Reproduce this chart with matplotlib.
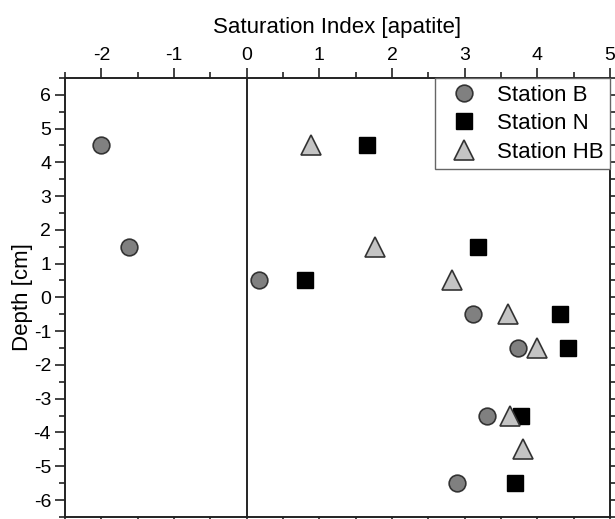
import matplotlib
matplotlib.use("Agg")
import matplotlib.pyplot as plt
from matplotlib.ticker import MultipleLocator

plt.rcParams['font.family'] = ['Liberation Sans', 'DejaVu Sans']
plt.rcParams['axes.unicode_minus'] = False

depth = [4.5, 1.5, 0.5, -0.5, -1.5, -3.5, -5.5]
si_b = [-2.0, -1.62, 0.165, 3.11, 3.74, 3.31, 2.90]
si_n = [1.65, 3.19, 0.81, 4.31, 4.42, 3.78, 3.69]
depth_hb = [4.5, 1.5, 0.5, -0.5, -1.5, -3.5, -4.5]
si_hb = [0.88, 1.76, 2.83, 3.60, 4.0, 3.63, 3.80]

fig = plt.figure(figsize=(6.15, 5.19), dpi=100)
ax = fig.add_axes([0.1057, 0.004, 0.886, 0.846])

ax.axvline(0, color='black', lw=1.2, zorder=1)

ax.plot(si_b, depth, 'o', ms=12, mfc='#808080', mec='#333333', mew=1.2,
        ls='none', label='Station B', zorder=3)
ax.plot(si_n, depth, 's', ms=11, mfc='black', mec='black', mew=1.0,
        ls='none', label='Station N', zorder=3)
ax.plot(si_hb, depth_hb, '^', ms=14, mfc='#c4c4c4', mec='#333333', mew=1.2,
        ls='none', label='Station HB', zorder=3)

ax.set_xlim(-2.5, 5)
ax.set_ylim(-6.5, 6.5)
ax.xaxis.set_major_locator(MultipleLocator(1))
ax.xaxis.set_minor_locator(MultipleLocator(0.5))
ax.yaxis.set_major_locator(MultipleLocator(1))
ax.yaxis.set_minor_locator(MultipleLocator(0.5))

ax.xaxis.set_label_position('top')
ax.tick_params(axis='both', which='both', direction='out', top=True, right=True,
               bottom=True, left=True, labeltop=True, labelbottom=False,
               labelsize=14, width=1.2, color='#222222')
ax.tick_params(which='major', length=7, pad=3)
ax.tick_params(which='minor', length=4)
for s in ax.spines.values():
    s.set_linewidth(1.4)
    s.set_color('#222222')

ax.set_xlabel('Saturation Index [apatite]', fontsize=16, labelpad=10)
ax.set_ylabel('Depth [cm]', fontsize=16, labelpad=0.5)

leg = ax.legend(loc='upper right', fontsize=16, borderaxespad=0,
                fancybox=False, edgecolor='#666666', framealpha=1,
                handletextpad=0.5, borderpad=0.3, labelspacing=0.34,
                handlelength=1.95)
leg.get_frame().set_linewidth(1.0)

fig.savefig('out.png', dpi=100)
